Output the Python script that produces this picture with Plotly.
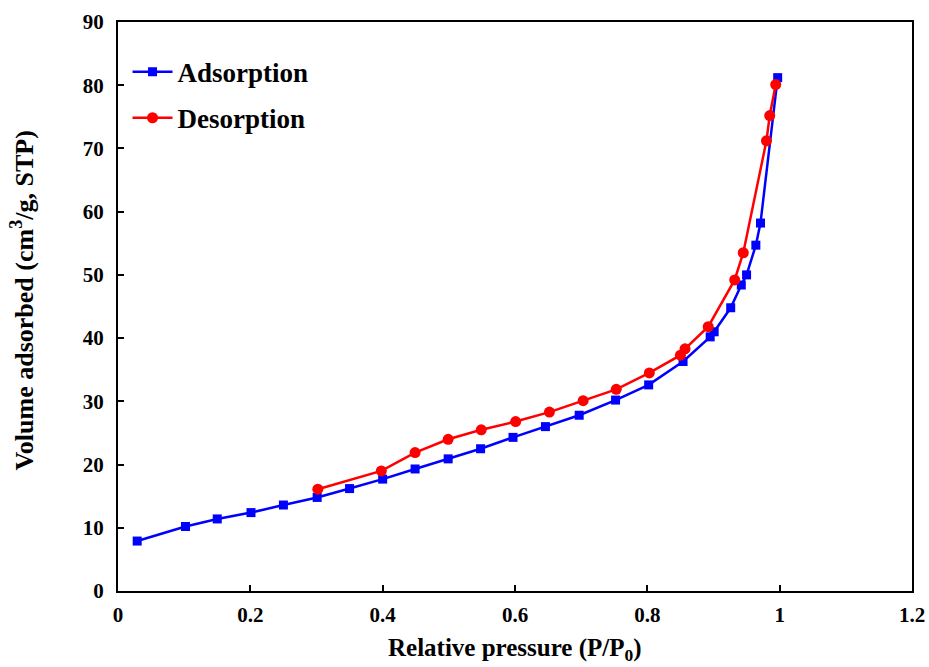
import plotly.graph_objects as go

ads_x = [0.029, 0.102, 0.150, 0.201, 0.250, 0.301, 0.350, 0.400, 0.449, 0.499, 0.548, 0.597, 0.646, 0.697, 0.752, 0.802,
         0.854, 0.895, 0.901, 0.926, 0.942, 0.950, 0.964, 0.971, 0.997]
ads_y = [7.9, 10.2, 11.4, 12.4, 13.6, 14.8, 16.2, 17.7, 19.3, 20.9, 22.5, 24.3, 26.0, 27.8, 30.2, 32.6,
         36.3, 40.2, 41.0, 44.8, 48.4, 50.0, 54.7, 58.2, 81.2]

des_x = [0.302, 0.398, 0.449, 0.499, 0.549, 0.601, 0.652, 0.703, 0.753, 0.803, 0.850, 0.857, 0.892, 0.932, 0.945,
         0.980, 0.985, 0.994]
des_y = [16.1, 19.0, 21.9, 24.0, 25.5, 26.8, 28.3, 30.1, 31.9, 34.5, 37.3, 38.3, 41.8, 49.2, 53.5,
         71.2, 75.2, 80.1]

x_title = "<b>Relative pressure (P/P<sub>0</sub>)</b>"
y_title = "<b>Volume adsorbed (cm<sup>3</sup>/g, STP)</b>"

font_family = "Liberation Serif"

fig = go.Figure()
fig.add_trace(go.Scatter(x=ads_x, y=ads_y, mode="lines+markers", name="<b>Adsorption</b>",
                         legendgroup="a",
                         line=dict(color="#0000ff", width=2.5),
                         marker=dict(symbol="square", size=9, color="#0000ff")))
fig.add_trace(go.Scatter(x=des_x, y=des_y, mode="lines+markers", name="<b>Desorption</b>",
                         legendgroup="d",
                         line=dict(color="#ff0000", width=2.5),
                         marker=dict(symbol="circle", size=11, color="#ff0000")))

fig.update_layout(
    width=929, height=667,
    margin=dict(l=118, r=17, t=22, b=76),
    plot_bgcolor="white", paper_bgcolor="white",
    font=dict(family=font_family, size=21, color="black"),
    legend=dict(x=0.012, y=0.955, xanchor="left", yanchor="top",
                font=dict(family=font_family, size=27, color="black"),
                bgcolor="rgba(0,0,0,0)", tracegroupgap=8, itemwidth=40),
    showlegend=True,
    annotations=[
        dict(text=x_title, xref="paper", yref="paper", x=0.5, y=-0.102, xanchor="center", yanchor="middle",
             showarrow=False, font=dict(family=font_family, size=25, color="black")),
        dict(text=y_title, xref="paper", yref="paper", x=-0.12, y=0.51, xanchor="center", yanchor="middle",
             textangle=-90, showarrow=False, font=dict(family=font_family, size=26, color="black")),
    ],
)
fig.update_xaxes(range=[0, 1.2], tickvals=[0, 0.2, 0.4, 0.6, 0.8, 1, 1.2],
                 ticktext=["<b>0</b>", "<b>0.2</b>", "<b>0.4</b>", "<b>0.6</b>", "<b>0.8</b>", "<b>1</b>", "<b>1.2</b>"],
                 showline=True, linecolor="black", linewidth=2, ticks="inside", ticklen=6, tickwidth=2,
                 tickcolor="black", showgrid=False, zeroline=False, mirror=True, automargin=False,
                 ticklabelstandoff=4)
fig.update_yaxes(range=[0, 90], tickvals=list(range(0, 91, 10)),
                 ticktext=["<b>%d</b>" % v for v in range(0, 91, 10)],
                 showline=True, linecolor="black", linewidth=2, ticks="inside", ticklen=6, tickwidth=2,
                 tickcolor="black", showgrid=False, zeroline=False, mirror=True, automargin=False,
                 ticklabelstandoff=8)

fig.write_html("out.html")
